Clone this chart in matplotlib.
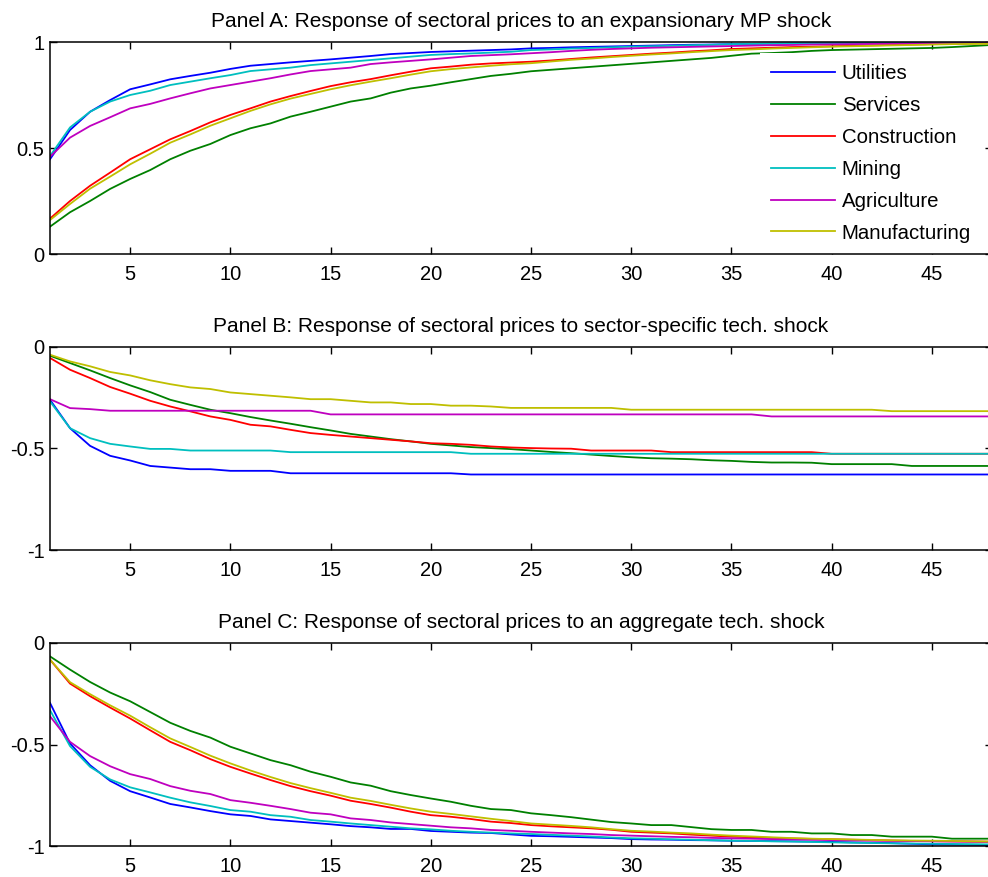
import numpy as np
import matplotlib
matplotlib.use('Agg')
import matplotlib.pyplot as plt

plt.rcParams['font.family'] = ['Liberation Sans', 'DejaVu Sans']

horizon = np.arange(1, 49)
sectors = ['Utilities', 'Services', 'Construction', 'Mining', 'Agriculture', 'Manufacturing']
colors = ['#0000ff', '#008000', '#ff0000', '#00bfbf', '#bf00bf', '#bfbf00']

# Panel A: expansionary MP shock
mp_utilities = [0.447, 0.585, 0.671, 0.726, 0.777, 0.80, 0.824, 0.84, 0.855, 0.873, 0.888, 0.896,
                0.904, 0.911, 0.918, 0.926, 0.934, 0.943, 0.948, 0.953, 0.956, 0.959, 0.962, 0.965,
                0.97, 0.972, 0.975, 0.977, 0.979, 0.981, 0.983, 0.985, 0.987, 0.988, 0.99, 0.991,
                0.992, 0.993, 0.994, 0.995, 0.995, 0.996, 0.996, 0.997, 0.997, 0.998, 0.998, 0.998]
mp_services = [0.129, 0.197, 0.25, 0.307, 0.354, 0.396, 0.447, 0.487, 0.519, 0.561, 0.593, 0.616,
               0.648, 0.671, 0.695, 0.719, 0.734, 0.761, 0.781, 0.794, 0.81, 0.825, 0.84, 0.85,
               0.862, 0.869, 0.876, 0.883, 0.89, 0.897, 0.904, 0.911, 0.918, 0.925, 0.935, 0.945,
               0.948, 0.952, 0.958, 0.962, 0.964, 0.966, 0.968, 0.97, 0.972, 0.976, 0.981, 0.986]
mp_construction = [0.167, 0.25, 0.322, 0.384, 0.447, 0.494, 0.541, 0.58, 0.621, 0.656, 0.687, 0.719,
                   0.745, 0.769, 0.792, 0.81, 0.825, 0.843, 0.86, 0.876, 0.884, 0.893, 0.899, 0.903,
                   0.907, 0.913, 0.92, 0.927, 0.933, 0.939, 0.945, 0.95, 0.956, 0.961, 0.967, 0.97,
                   0.973, 0.976, 0.978, 0.98, 0.982, 0.984, 0.986, 0.988, 0.99, 0.991, 0.993, 0.994]
mp_mining = [0.462, 0.597, 0.671, 0.719, 0.75, 0.77, 0.797, 0.813, 0.829, 0.844, 0.863, 0.871,
             0.879, 0.891, 0.899, 0.907, 0.915, 0.923, 0.931, 0.939, 0.943, 0.946, 0.95, 0.954,
             0.962, 0.965, 0.969, 0.972, 0.975, 0.978, 0.98, 0.982, 0.985, 0.987, 0.99, 0.991,
             0.992, 0.993, 0.994, 0.995, 0.995, 0.996, 0.996, 0.997, 0.997, 0.997, 0.998, 0.998]
mp_agriculture = [0.459, 0.549, 0.604, 0.645, 0.687, 0.708, 0.734, 0.758, 0.781, 0.797, 0.813, 0.829,
                  0.847, 0.863, 0.871, 0.879, 0.896, 0.904, 0.911, 0.918, 0.926, 0.934, 0.938, 0.942,
                  0.947, 0.952, 0.958, 0.963, 0.967, 0.97, 0.973, 0.975, 0.977, 0.979, 0.981, 0.983,
                  0.985, 0.986, 0.988, 0.989, 0.99, 0.991, 0.992, 0.993, 0.994, 0.994, 0.995, 0.995]
mp_manufacturing = [0.16, 0.236, 0.308, 0.365, 0.423, 0.473, 0.525, 0.564, 0.605, 0.64, 0.675, 0.706,
                    0.733, 0.755, 0.777, 0.796, 0.813, 0.829, 0.846, 0.862, 0.872, 0.88, 0.888, 0.895,
                    0.9, 0.908, 0.916, 0.922, 0.929, 0.935, 0.941, 0.946, 0.952, 0.957, 0.962, 0.965,
                    0.969, 0.972, 0.975, 0.978, 0.98, 0.982, 0.984, 0.986, 0.988, 0.99, 0.991, 0.992]

# Panel B: sector-specific tech. shock
st_utilities = [-0.26, -0.40, -0.487, -0.536, -0.559, -0.586, -0.594, -0.602, -0.602, -0.61, -0.61, -0.61] \
    + [-0.622] * 9 + [-0.628] * 27
st_services = [-0.043, -0.079, -0.115, -0.153, -0.189, -0.222, -0.26, -0.285, -0.309, -0.326, -0.345, -0.362,
               -0.378, -0.395, -0.411, -0.428, -0.441, -0.454, -0.465, -0.477, -0.485, -0.493, -0.498, -0.503,
               -0.51, -0.517, -0.523, -0.53, -0.537, -0.543, -0.548, -0.55, -0.553, -0.558, -0.561, -0.566,
               -0.569, -0.569, -0.57, -0.577, -0.577, -0.577, -0.577, -0.586, -0.586, -0.586, -0.586, -0.586]
st_construction = [-0.054, -0.112, -0.153, -0.197, -0.23, -0.265, -0.293, -0.317, -0.342, -0.359, -0.383, -0.391,
                   -0.408, -0.424, -0.433, -0.441, -0.449, -0.457, -0.465, -0.474, -0.477, -0.482, -0.49, -0.495,
                   -0.498, -0.5, -0.501] + [-0.51] * 4 + [-0.518] * 8 + [-0.526] * 9
st_mining = [-0.268, -0.40, -0.449, -0.477, -0.49, -0.502, -0.502] + [-0.51] * 5 + [-0.518] * 9 + [-0.526] * 27
st_agriculture = [-0.257, -0.301, -0.306] + [-0.314] * 11 + [-0.332] * 22 + [-0.342] * 12
st_manufacturing = [-0.038, -0.071, -0.095, -0.123, -0.14, -0.164, -0.183, -0.199, -0.207, -0.224, -0.232, -0.24,
                    -0.248, -0.257, -0.257, -0.265, -0.273, -0.273, -0.281, -0.281, -0.289, -0.289, -0.293] \
    + [-0.30] * 6 + [-0.309] * 13 + [-0.316] * 6

# Panel C: aggregate tech. shock
ag_utilities = [-0.295, -0.495, -0.602, -0.679, -0.73, -0.761, -0.793, -0.81, -0.828, -0.844, -0.852, -0.869,
                -0.877, -0.885, -0.893, -0.902, -0.908, -0.916, -0.916, -0.926, -0.93, -0.934, -0.936, -0.943,
                -0.95, -0.952, -0.955, -0.958, -0.961, -0.966, -0.968, -0.969, -0.971, -0.972, -0.974, -0.975,
                -0.976, -0.977, -0.978, -0.98, -0.982, -0.984, -0.986, -0.989, -0.992, -0.993, -0.994, -0.995]
ag_services = [-0.066, -0.131, -0.192, -0.244, -0.287, -0.34, -0.393, -0.433, -0.466, -0.511, -0.544, -0.577,
               -0.602, -0.634, -0.659, -0.687, -0.703, -0.73, -0.749, -0.766, -0.782, -0.802, -0.818, -0.823,
               -0.839, -0.848, -0.858, -0.87, -0.882, -0.889, -0.897, -0.897, -0.907, -0.917, -0.921, -0.921,
               -0.93, -0.93, -0.938, -0.938, -0.946, -0.946, -0.954, -0.954, -0.954, -0.964, -0.964, -0.964]
ag_construction = [-0.082, -0.2, -0.262, -0.318, -0.372, -0.43, -0.487, -0.528, -0.572, -0.61, -0.643, -0.675,
                   -0.705, -0.73, -0.752, -0.777, -0.793, -0.811, -0.831, -0.848, -0.856, -0.867, -0.88, -0.887,
                   -0.897, -0.903, -0.908, -0.913, -0.92, -0.93, -0.934, -0.938, -0.944, -0.949, -0.954, -0.957,
                   -0.96, -0.963, -0.965, -0.967, -0.969, -0.971, -0.973, -0.975, -0.976, -0.977, -0.978, -0.979]
ag_mining = [-0.331, -0.508, -0.61, -0.672, -0.711, -0.736, -0.762, -0.785, -0.803, -0.823, -0.831, -0.848,
             -0.856, -0.872, -0.88, -0.889, -0.897, -0.905, -0.913, -0.918, -0.925, -0.93, -0.934, -0.938,
             -0.941, -0.945, -0.949, -0.953, -0.958, -0.962, -0.964, -0.967, -0.969, -0.972, -0.974, -0.975,
             -0.977, -0.978, -0.98, -0.982, -0.984, -0.985, -0.987, -0.988, -0.989, -0.99, -0.991, -0.992]
ag_agriculture = [-0.361, -0.487, -0.557, -0.607, -0.646, -0.67, -0.705, -0.728, -0.744, -0.774, -0.787, -0.802,
                  -0.818, -0.836, -0.844, -0.864, -0.872, -0.884, -0.892, -0.9, -0.908, -0.913, -0.921, -0.925,
                  -0.93, -0.934, -0.938, -0.941, -0.946, -0.949, -0.952, -0.955, -0.957, -0.96, -0.962, -0.964,
                  -0.966, -0.967, -0.969, -0.971, -0.972, -0.974, -0.975, -0.976, -0.977, -0.978, -0.979, -0.98]
ag_manufacturing = [-0.082, -0.193, -0.252, -0.307, -0.358, -0.415, -0.47, -0.512, -0.555, -0.593, -0.628, -0.66,
                    -0.69, -0.715, -0.738, -0.762, -0.778, -0.797, -0.815, -0.831, -0.842, -0.854, -0.866, -0.877,
                    -0.889, -0.895, -0.901, -0.908, -0.917, -0.925, -0.929, -0.934, -0.938, -0.944, -0.949, -0.953,
                    -0.957, -0.961, -0.964, -0.966, -0.968, -0.97, -0.972, -0.973, -0.974, -0.975, -0.977, -0.978]

panels = [
    ('Panel A: Response of sectoral prices to an expansionary MP shock',
     [mp_utilities, mp_services, mp_construction, mp_mining, mp_agriculture, mp_manufacturing],
     (0, 1), [0, 0.5, 1], ['0', '0.5', '1']),
    ('Panel B: Response of sectoral prices to sector-specific tech. shock',
     [st_utilities, st_services, st_construction, st_mining, st_agriculture, st_manufacturing],
     (-1, 0), [-1, -0.5, 0], ['-1', '-0.5', '0']),
    ('Panel C: Response of sectoral prices to an aggregate tech. shock',
     [ag_utilities, ag_services, ag_construction, ag_mining, ag_agriculture, ag_manufacturing],
     (-1, 0), [-1, -0.5, 0], ['-1', '-0.5', '0']),
]

W, H = 988, 877
fig = plt.figure(figsize=(W / 100, H / 100), dpi=100)
# axes boxes in pixels: left, top, right, bottom
boxes = [(50, 42, 992, 254), (50, 347, 992, 550), (50, 643, 992, 846)]

for (title, series, ylim, yt, ytl), (l, t, r, b) in zip(panels, boxes):
    ax = fig.add_axes([l / W, 1 - b / H, (r - l) / W, (b - t) / H])
    for vals, c, name in zip(series, colors, sectors):
        ax.plot(horizon, vals, color=c, lw=1.3, label=name)
    ax.set_xlim(1, 48)
    ax.set_ylim(*ylim)
    ax.set_xticks([5, 10, 15, 20, 25, 30, 35, 40, 45])
    ax.set_yticks(yt)
    ax.set_yticklabels(ytl)
    ax.set_title(title, fontsize=15, pad=11)
    ax.tick_params(direction='in', top=True, right=True, length=5, width=1,
                   labelsize=14.5)
    ax.tick_params(axis='x', pad=8)
    ax.tick_params(axis='y', pad=4)
    for s in ax.spines.values():
        s.set_linewidth(1.1)
    if title.startswith('Panel A'):
        leg = ax.legend(loc='upper left', bbox_to_anchor=(760 / W, 1 - 53 / H),
                        bbox_transform=fig.transFigure, fontsize=14.7, frameon=True,
                        fancybox=False, edgecolor='white', framealpha=1,
                        borderaxespad=0, borderpad=0.55, labelspacing=0.63,
                        handlelength=3.1, handletextpad=0.35)
        leg.get_frame().set_linewidth(0)
        leg.set_zorder(2.4)

fig.savefig('out.png', dpi=100)
